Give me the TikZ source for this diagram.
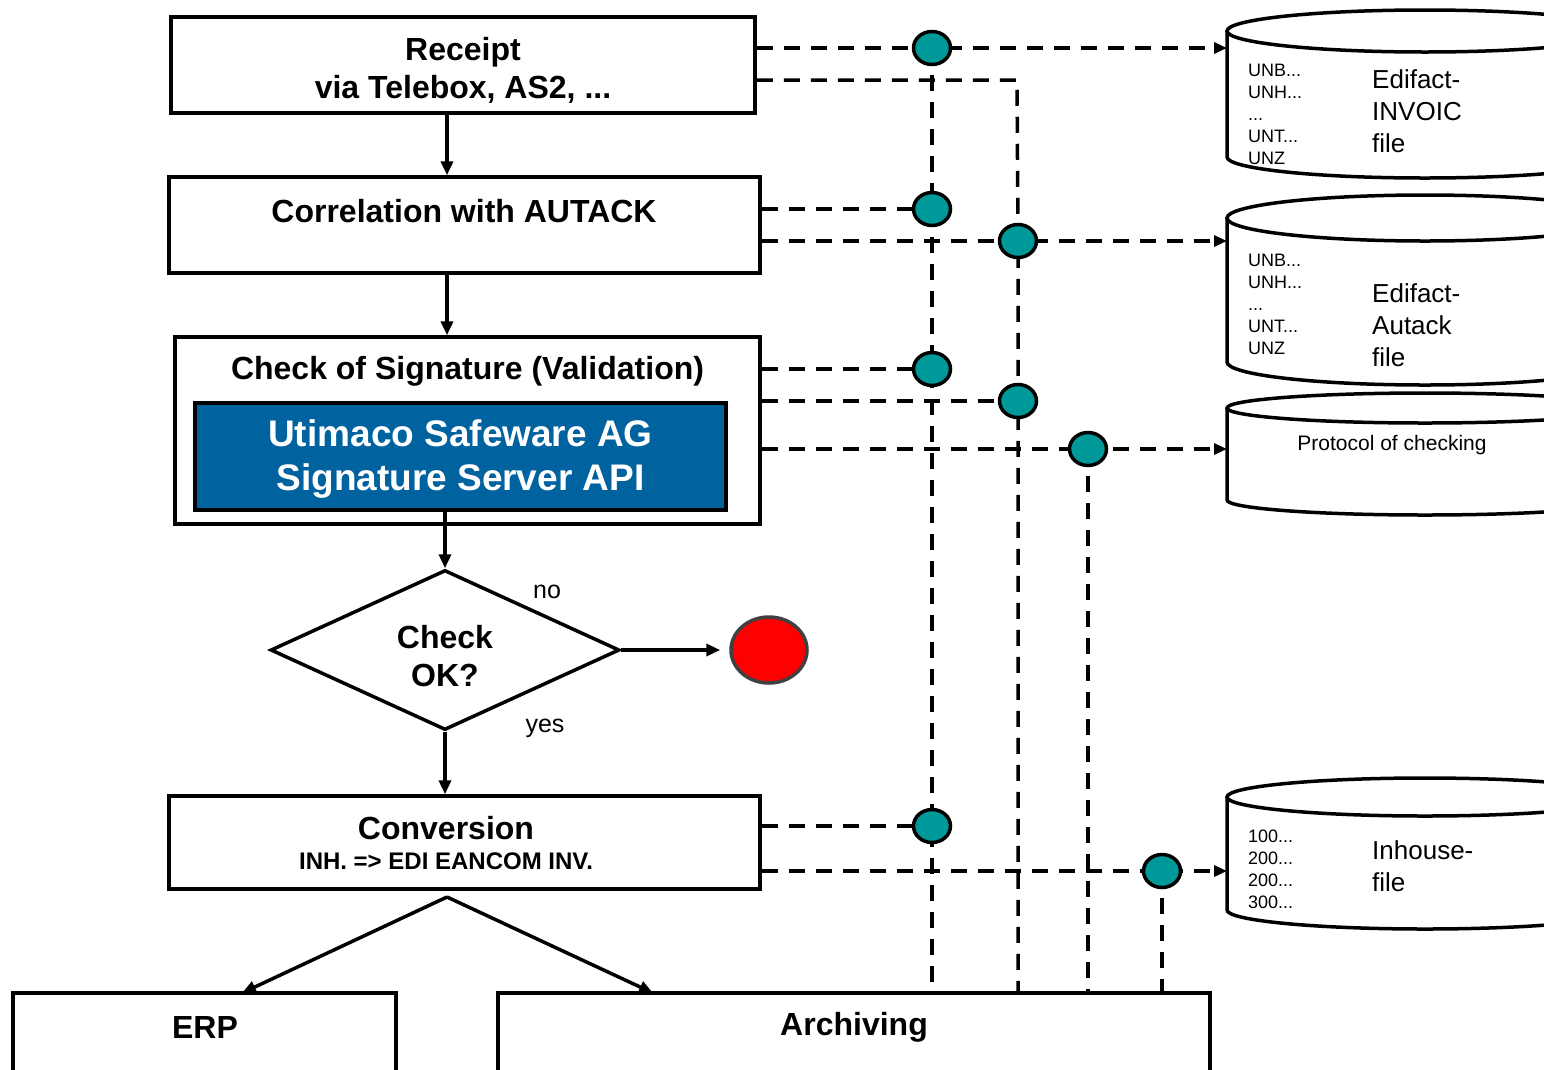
\documentclass[tikz,border=0pt]{standalone}
\usepackage{fontspec}
\setmainfont{Liberation Sans}
\usetikzlibrary{arrows.meta,shapes.geometric,backgrounds}
\definecolor{dotteal}{RGB}{0,153,153}
\definecolor{sigblue}{RGB}{0,99,160}
\definecolor{stopgray}{RGB}{64,64,64}
\newcommand\drawcylinder[3]{%
  \draw[cylline] (1227,-#1) -- (1227,-#3) arc[start angle=180,end angle=360,x radius=198,y radius=#2] -- (1623,-#1);
  \draw[cylline] (1425,-#1) ellipse[x radius=198,y radius=#2];}
\begin{document}
\begin{tikzpicture}[x=1pt,y=1pt,
  box/.style={draw=black,line width=3.5pt,inner sep=0pt,fill=white},
  title/.style={font=\fontsize{32}{38.4}\selectfont\bfseries,align=center,inner sep=0pt},
  subtitle/.style={font=\fontsize{24}{28}\selectfont\bfseries,align=center,inner sep=0pt},
  sigtext/.style={font=\fontsize{37}{44}\selectfont\bfseries,align=center,inner sep=0pt,text=white},
  small/.style={font=\fontsize{18}{22}\selectfont,align=left,inner sep=0pt,anchor=west},
  big/.style={font=\fontsize{26}{32}\selectfont,align=left,inner sep=0pt,anchor=west},
  lbl/.style={font=\fontsize{25}{30}\selectfont,inner sep=0pt},
  dot/.style={ellipse,draw=black,line width=3.5pt,fill=dotteal,minimum width=37pt,minimum height=33pt,inner sep=0pt},
  flow/.style={line width=3.5pt,-{Triangle[length=14pt,width=12pt]}},
  dline/.style={line width=3.5pt,dash pattern=on 16pt off 11pt},
  darrow/.style={dline,-{Triangle[length=13pt,width=11pt]}},
  cylline/.style={line width=3.5pt}
]
\useasboundingbox (0,0) rectangle (1544,-1069);

% cylinders
\drawcylinder{31}{21}{157}
\drawcylinder{218}{23}{362}
\drawcylinder{408}{15}{500}
\drawcylinder{797}{19}{910}
\coordinate (c1a) at (1227,-48);
\coordinate (c2a) at (1227,-241);
\coordinate (c3a) at (1227,-449);
\coordinate (c4a) at (1227,-871);
\node[small] (c1s) at (1248,-114) {UNB...\\UNH...\\...\\UNT...\\UNZ};
\node[big] (c1b) at (1372,-111) {Edifact-\\INVOIC\\file};
\node[small] (c2s) at (1248,-304) {UNB...\\UNH...\\...\\UNT...\\UNZ};
\node[big] (c2b) at (1372,-325) {Edifact-\\Autack\\file};
\node[font=\fontsize{21}{25}\selectfont,inner sep=0pt] (c3t) at (1392,-445) {Protocol of checking};
\node[small] (c4s) at (1248,-869) {100...\\200...\\200...\\300...};
\node[big] (c4b) at (1372,-866) {Inhouse-\\file};

% process boxes
\node[box,minimum width=584pt,minimum height=96pt] (rec) at (463,-65) {};
\node[title] (rect) at (463,-70.5) {Receipt\\via Telebox, AS2, ...};
\node[box,minimum width=591pt,minimum height=96pt] (cor) at (464.5,-225) {};
\node[title] (cort) at (464,-211) {Correlation with AUTACK};
\node[box,minimum width=585pt,minimum height=187pt] (chk) at (467.5,-430.5) {};
\node[title] (chkt) at (467.5,-371) {Check of Signature (Validation)};
\node[box,fill=sigblue,minimum width=531pt,minimum height=107pt] (sig) at (460.5,-456.5) {};
\node[sigtext] (sigt) at (460.5,-459.5) {Utimaco Safeware AG\\Signature Server API};
\node[diamond,draw=black,line width=3.5pt,fill=white,inner sep=0pt,minimum width=349pt,minimum height=160pt] (dia) at (445,-650) {};
\node[title] (diat) at (445,-656) {Check\\OK?};
\node[ellipse,draw=stopgray,line width=3.5pt,fill=red,minimum width=76pt,minimum height=66pt,inner sep=0pt] (stop) at (769,-650) {};
\node[lbl] (no) at (547,-592) {no};
\node[lbl] (yes) at (545,-728) {yes};
\node[box,minimum width=591pt,minimum height=93pt] (conv) at (464.5,-842.5) {};
\node[title] (convt) at (446,-828) {Conversion};
\node[subtitle] (convs) at (446,-861) {INH. => EDI EANCOM INV.};
\node[box,minimum width=383pt,minimum height=120pt] (erp) at (204.5,-1053) {};
\node[title] (erpt) at (205,-1027) {ERP};
\node[box,minimum width=712pt,minimum height=120pt] (arch) at (854,-1053) {};
\node[title] (archt) at (854,-1027) {Archiving};

% flow arrows
\coordinate (cx) at (447,0);
\coordinate (cy) at (445,0);
\draw[flow] (rec.south -| cx) -- (cor.north -| cx);
\draw[flow] (cor.south -| cx) -- (chk.north -| cx);
\draw[flow] (sig.south -| cy) -- (dia.north);
\draw[flow,shorten >=9pt] (dia.east) -- (stop.west);
\draw[flow] (dia.south) -- (conv.north -| dia.south);
\coordinate (br) at (447,-897);
\coordinate (ea) at (242,-993);
\coordinate (aa) at (653,-993);
\draw[flow] (br) -- (ea);
\draw[flow] (br) -- (aa);

% dots
\node[dot] (d1) at (932,-48) {};
\node[dot] (d2) at (932,-209) {};
\node[dot] (d3) at (1018,-241) {};
\node[dot] (d4) at (932,-369) {};
\node[dot] (d5) at (1018,-401) {};
\node[dot] (d6) at (1088,-449) {};
\node[dot] (d7) at (932,-826) {};
\node[dot] (d8) at (1162,-871) {};
\coordinate (k1) at (1017,-80);

\begin{scope}[on background layer]
\fill[white] (0,0) rectangle (1544,-1069);
\draw[darrow] (rec.east |- d1) -- (c1a);
\draw[dline] (rec.east |- k1) -- (k1) -- (d3.center) -- (d5.center) -- (arch.north -| d5);
\draw[dline] (d1.center) -- (arch.north -| d1);
\draw[dline] (cor.east |- d2) -- (d2.center);
\draw[darrow] (cor.east |- d3) -- (c2a);
\draw[dline] (chk.east |- d4) -- (d4.center);
\draw[dline] (chk.east |- d5) -- (d5.center);
\draw[darrow] (chk.east |- d6) -- (c3a);
\draw[dline] (d6.center) -- (arch.north -| d6);
\draw[dline] (conv.east |- d7) -- (d7.center);
\draw[darrow] (conv.east |- d8) -- (c4a);
\draw[dline] (d8.center) -- (arch.north -| d8);
\end{scope}
\end{tikzpicture}
\end{document}
